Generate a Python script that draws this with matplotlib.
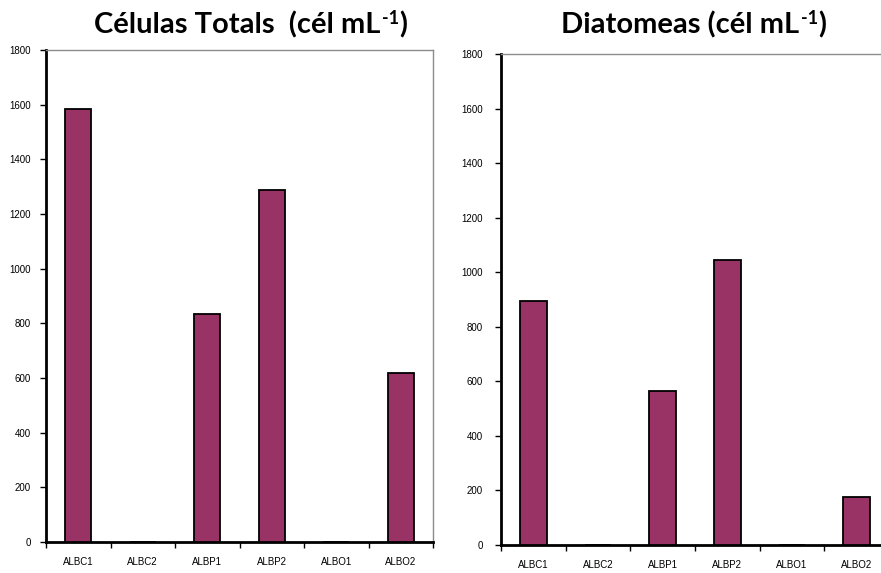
import matplotlib
matplotlib.use("Agg")
import matplotlib.pyplot as plt
import numpy as np

categories = ["ALBC1", "ALBC2", "ALBP1", "ALBP2", "ALBO1", "ALBO2"]
celulas_totals = [1584, 0, 833, 1289, 0, 618]
diatomeas = [893, 0, 565, 1043, 0, 177]
yticks = [0, 200, 400, 600, 800, 1000, 1200, 1400, 1600, 1800]
titles = [("Células Totals  (cél mL", "-1", ")"), ("Diatomeas (cél mL", "-1", ")")]

plt.rcParams["font.family"] = ["Liberation Sans", "DejaVu Sans"]

W, H = 881, 573
fig = plt.figure(figsize=(W / 100, H / 100), dpi=100)

def make_ax(left, right, top, bottom, values, ypad):
    ax = fig.add_axes([left / W, 1 - bottom / H, (right - left) / W, (bottom - top) / H])
    x = np.arange(len(categories))
    ax.bar(x, values, width=0.41, color="#993366", edgecolor="black", linewidth=1.3, zorder=3)
    ax.set_xlim(-0.5, len(categories) - 0.5)
    ax.set_ylim(0, 1800)
    ax.set_yticks(yticks)
    ax.set_yticklabels([str(v) for v in yticks], fontsize=7)
    ax.set_xticks(x)
    ax.set_xticklabels(categories, fontsize=7)
    ax.set_xticks(np.arange(len(categories) + 1) - 0.5, minor=True)
    ax.tick_params(axis="x", which="major", length=0, pad=11)
    ax.tick_params(axis="x", which="minor", length=4, width=1, direction="out", color="black")
    ax.tick_params(axis="y", which="major", length=4, width=1, direction="out", pad=ypad)
    for s in ["left", "bottom"]:
        ax.spines[s].set_color("black")
        ax.spines[s].set_linewidth(2)
    for s in ["top", "right"]:
        ax.spines[s].set_color("#8c8c8c")
        ax.spines[s].set_linewidth(1)
    return ax

make_ax(46, 433, 50, 542, celulas_totals, 7)
make_ax(501, 889, 54, 545, diatomeas, 9)

renderer = fig.canvas.get_renderer()

def draw_title(cx, baseline_y, parts, size=21, supsize=13, rise=9):
    main, sup, close = parts
    kw = dict(fontweight="bold", family="Lato", va="baseline", ha="left")
    t1 = fig.text(0, 0, main, fontsize=size, **kw)
    t2 = fig.text(0, 0, sup, fontsize=supsize, **kw)
    t3 = fig.text(0, 0, close, fontsize=size, **kw)
    w1 = t1.get_window_extent(renderer).width
    w2 = t2.get_window_extent(renderer).width
    w3 = t3.get_window_extent(renderer).width
    total = w1 + w2 + w3 + 2
    x0 = cx - total / 2
    yb = H - baseline_y
    t1.set_position((x0 / W, yb / H))
    t2.set_position(((x0 + w1 + 1) / W, (yb + rise) / H))
    t3.set_position(((x0 + w1 + w2 + 2) / W, yb / H))

draw_title(251, 33, titles[0])
draw_title(694, 33, titles[1])

fig.savefig("out.png", dpi=100)
